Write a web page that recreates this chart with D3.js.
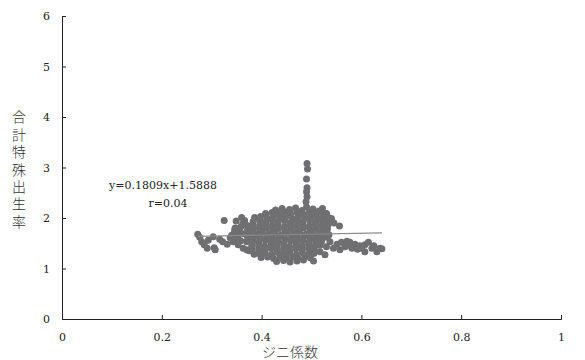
<!DOCTYPE html>
<html>
<head>
<meta charset="utf-8">
<script src="https://cdn.jsdelivr.net/npm/d3@7"></script>
<style>
  body { margin: 0; background: #fff; }
  .tick text { font-family: "DejaVu Serif", serif; font-size: 11px; fill: #222; }
  .eq { font-family: "DejaVu Serif", serif; font-size: 11px; fill: #222; }
  .ttl { font-family: "Noto Sans CJK JP", sans-serif; font-size: 14px; font-weight: 300; fill: #333; }
</style>
</head>
<body>
<div id="chart"></div>
<script>
// axis ticks
var xTicks = [0, 0.2, 0.4, 0.6, 0.8, 1];
var yTicks = [0, 1, 2, 3, 4, 5, 6];

// regression shown on chart
var slope = 0.1809;
var intercept = 1.5888;
var eqLabel = "y=0.1809x+1.5888";
var rLabel = "r=0.04";

// [gini, tfr] points
var leftTail = [
  [0.272,1.68],[0.276,1.62],[0.280,1.53],[0.285,1.47],[0.291,1.40],[0.293,1.56],
  [0.303,1.63],[0.305,1.41],[0.307,1.37],[0.316,1.58],[0.322,1.53],[0.325,1.95],
  [0.331,1.48],[0.337,1.61],[0.343,1.53],[0.347,1.80],[0.349,1.94],[0.353,1.47],
  [0.360,2.01],[0.363,1.40],[0.370,1.37],[0.345,1.70],[0.355,1.75],[0.352,1.62],
  [0.358,1.55],[0.362,1.88],[0.366,1.95],[0.340,1.66],[0.350,1.58],[0.356,1.70],
  [0.346,1.76],[0.358,1.82],[0.375,1.35],[0.385,1.28],[0.380,1.42]
];

var column = [
  [0.491,3.08],[0.492,2.97],[0.490,2.77],[0.491,2.60],[0.490,2.52],
  [0.491,2.42],[0.489,2.32],[0.490,2.22]
];

var rightTail = [
  [0.522,2.19],[0.530,2.09],[0.540,1.99],[0.556,1.84],[0.545,1.90],
  [0.537,1.53],[0.551,1.48],[0.560,1.52],[0.571,1.54],[0.577,1.52],[0.587,1.48],
  [0.597,1.45],[0.607,1.47],[0.614,1.52],[0.621,1.40],[0.631,1.33],[0.637,1.40],
  [0.607,1.33],[0.581,1.40],[0.567,1.43],[0.557,1.37],[0.544,1.40],[0.530,1.43],
  [0.517,1.33],[0.527,1.27],[0.592,1.38],[0.625,1.45],[0.600,1.40],[0.573,1.46],
  [0.641,1.39]
];

var cluster = [
  [0.428,2.16],[0.441,2.19],[0.456,2.17],[0.468,2.20],[0.481,2.15],[0.503,2.18],[0.515,2.14],
  [0.408,2.09],[0.421,2.11],[0.434,2.08],[0.446,2.12],[0.458,2.09],[0.471,2.11],[0.484,2.07],
  [0.496,2.12],[0.509,2.08],[0.522,2.10],[0.531,2.06],
  [0.386,2.01],[0.398,2.03],[0.411,2.00],[0.424,2.04],[0.437,2.01],[0.449,2.03],[0.462,1.99],
  [0.474,2.04],[0.487,2.01],[0.499,2.03],[0.512,2.00],[0.524,2.02],[0.537,1.99],
  [0.383,1.93],[0.396,1.95],[0.408,1.92],[0.421,1.96],[0.433,1.93],[0.446,1.95],[0.458,1.91],
  [0.471,1.95],[0.483,1.93],[0.496,1.96],[0.508,1.92],[0.521,1.95],[0.533,1.93],
  [0.371,1.85],[0.383,1.87],[0.396,1.84],[0.408,1.88],[0.421,1.85],[0.433,1.87],[0.446,1.83],
  [0.458,1.87],[0.471,1.85],[0.483,1.88],[0.496,1.84],[0.508,1.87],[0.521,1.85],[0.533,1.86],
  [0.372,1.77],[0.384,1.79],[0.397,1.76],[0.409,1.80],[0.422,1.77],[0.434,1.79],[0.447,1.75],
  [0.459,1.79],[0.472,1.77],[0.484,1.80],[0.497,1.76],[0.509,1.79],[0.522,1.77],[0.532,1.78],
  [0.364,1.69],[0.376,1.71],[0.389,1.68],[0.401,1.72],[0.414,1.69],[0.426,1.71],[0.439,1.67],
  [0.451,1.71],[0.464,1.69],[0.476,1.72],[0.489,1.68],[0.501,1.71],[0.514,1.69],[0.526,1.70],
  [0.535,1.67],
  [0.372,1.61],[0.385,1.63],[0.397,1.60],[0.410,1.64],[0.422,1.61],[0.435,1.63],[0.447,1.59],
  [0.460,1.63],[0.472,1.61],[0.485,1.64],[0.497,1.60],[0.510,1.63],[0.522,1.61],[0.531,1.62],
  [0.370,1.53],[0.383,1.55],[0.395,1.52],[0.408,1.56],[0.420,1.53],[0.433,1.55],[0.445,1.51],
  [0.458,1.55],[0.470,1.53],[0.483,1.56],[0.495,1.52],[0.508,1.55],[0.520,1.53],
  [0.381,1.45],[0.394,1.47],[0.406,1.44],[0.419,1.48],[0.431,1.45],[0.444,1.47],[0.456,1.43],
  [0.469,1.47],[0.481,1.45],[0.494,1.48],[0.506,1.44],[0.517,1.46],
  [0.381,1.37],[0.394,1.39],[0.406,1.36],[0.419,1.40],[0.431,1.37],[0.444,1.39],[0.456,1.35],
  [0.469,1.39],[0.481,1.37],[0.494,1.40],[0.506,1.36],
  [0.395,1.30],[0.407,1.31],[0.420,1.28],[0.432,1.32],[0.445,1.29],[0.457,1.31],[0.470,1.27],
  [0.482,1.31],[0.495,1.29],[0.505,1.30],
  [0.399,1.22],[0.412,1.23],[0.424,1.20],[0.437,1.24],[0.449,1.21],[0.462,1.23],[0.474,1.20],
  [0.487,1.24],[0.498,1.21],
  [0.430,1.14],[0.444,1.16],[0.457,1.13],[0.471,1.15],[0.484,1.17],[0.504,1.15]
];

var points = leftTail.concat(cluster, column, rightTail);

var svgWidth = 585;
var svgHeight = 360;
var margin = { top: 16, right: 24, bottom: 41, left: 62 };
var width = svgWidth - margin.left - margin.right;
var height = svgHeight - margin.top - margin.bottom;

var svg = d3.select("#chart")
  .append("svg")
  .attr("width", svgWidth)
  .attr("height", svgHeight);

var chartGroup = svg.append("g")
  .attr("transform", `translate(${margin.left}, ${margin.top})`);

var x = d3.scaleLinear().domain([0, 1]).range([0, width]);
var y = d3.scaleLinear().domain([0, 6]).range([height, 0]);

// axes, ticks point inward
var bottomAxis = d3.axisBottom(x).tickValues(xTicks).tickSize(-4).tickPadding(12)
  .tickFormat(d => d);
var leftAxis = d3.axisLeft(y).tickValues(yTicks).tickSize(-4).tickPadding(12)
  .tickFormat(d => d);

var gx = chartGroup.append("g")
  .attr("transform", `translate(0, ${height})`)
  .call(bottomAxis);
var gy = chartGroup.append("g").call(leftAxis);

[gx, gy].forEach(g => {
  g.select(".domain").attr("stroke", "#222").attr("stroke-width", 1);
  g.selectAll(".tick line").attr("stroke", "#222");
});
gx.selectAll(".tick text").attr("dy", "0.9em");

// dots
chartGroup.selectAll("circle")
  .data(points)
  .enter()
  .append("circle")
  .attr("cx", d => x(d[0]))
  .attr("cy", d => y(d[1]))
  .attr("r", 3.5)
  .style("fill", "#6f6f71");

// trendline across the x range of the data
var xr = d3.extent(points, d => d[0]);
chartGroup.append("line")
  .attr("x1", x(xr[0]))
  .attr("y1", y(slope * xr[0] + intercept))
  .attr("x2", x(xr[1]))
  .attr("y2", y(slope * xr[1] + intercept))
  .attr("stroke", "#8a8a8a")
  .attr("stroke-width", 1.2);

// equation label
svg.append("text").attr("class", "eq")
  .attr("x", 163).attr("y", 189)
  .attr("text-anchor", "middle")
  .text(eqLabel);
svg.append("text").attr("class", "eq")
  .attr("x", 168).attr("y", 207)
  .attr("text-anchor", "middle")
  .text(rLabel);

// axis titles
svg.append("text").attr("class", "ttl")
  .attr("x", 290).attr("y", 357)
  .attr("text-anchor", "middle")
  .text("ジニ係数");

svg.append("text").attr("class", "ttl")
  .attr("transform", "translate(19, 171)")
  .attr("text-anchor", "middle")
  .style("writing-mode", "vertical-rl")
  .style("letter-spacing", "3.4px")
  .text("合計特殊出生率");
</script>
</body>
</html>
